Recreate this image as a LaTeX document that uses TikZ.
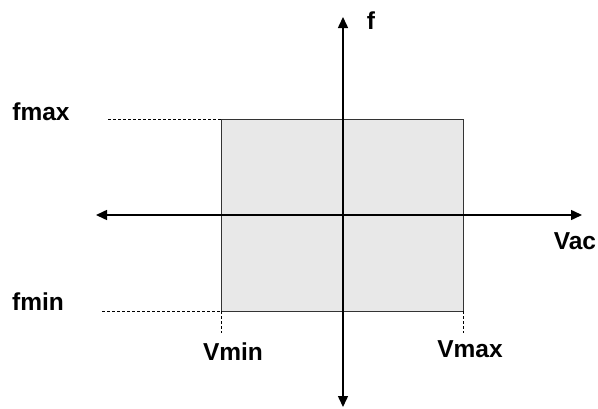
\documentclass[tikz,border=0pt]{standalone}
\usepackage{fontspec}
\setmainfont{Liberation Sans}
\usetikzlibrary{arrows.meta}
\begin{document}
\begin{tikzpicture}[x=1pt,y=-1pt,
  axis/.style={line width=1.5pt,-{Triangle[length=11pt,width=10pt]}},
  guide/.style={line width=0.7pt,dash pattern=on 3pt off 2pt},
  lbl/.style={font=\bfseries\fontsize{24.5}{28}\selectfont,inner sep=0pt}]
\useasboundingbox (0,0) rectangle (598,408);
\coordinate (bl) at (221,311);
\coordinate (tr) at (463,119);
\filldraw[fill=black!9,draw=black!80,line width=1pt] (221,119) rectangle (463,311);
\coordinate (ytop) at (343,17);
\coordinate (ybot) at (343,407);
\coordinate (xl) at (96,215);
\coordinate (xr) at (582,215);
\coordinate (o) at (343,215);
\draw[axis] (o) -- (ytop);
\draw[axis] (o) -- (ybot);
\draw[axis] (o) -- (xl);
\draw[axis] (o) -- (xr);
\coordinate (fmaxd) at (108,119);
\coordinate (fmind) at (102,311);
\coordinate (vmind) at (221,333);
\coordinate (vmaxd) at (463,333);
\draw[guide] (fmaxd) -- (221,119);
\draw[guide] (fmind) -- (bl);
\draw[guide] (bl) -- (vmind);
\draw[guide] (463,311) -- (vmaxd);
\node[lbl] (f) at (371,21) {f};
\node[lbl] (fmax) at (41,112) {fmax};
\node[lbl] (fmin) at (38,302) {fmin};
\node[lbl] (vac) at (575,241) {Vac};
\node[lbl] (vmin) at (233,352) {Vmin};
\node[lbl] (vmax) at (470,349) {Vmax};
\end{tikzpicture}
\end{document}
